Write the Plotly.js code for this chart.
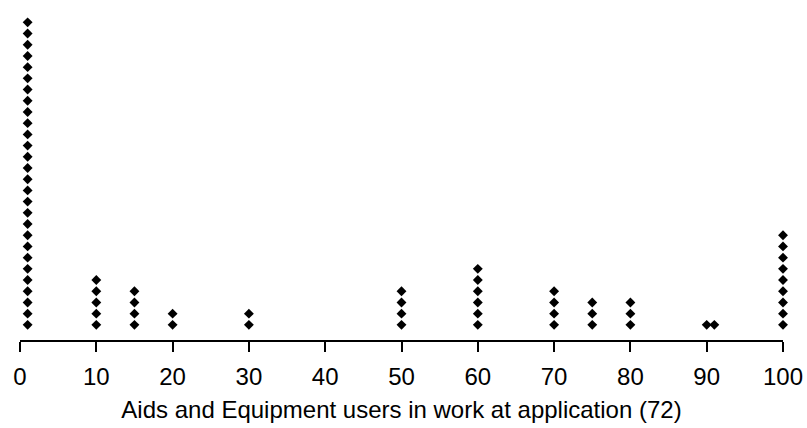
<!DOCTYPE html>
<html>
<head>
<meta charset="utf-8">
<script src="https://cdn.plot.ly/plotly-3.0.1.min.js"></script>
<style>html,body{margin:0;padding:0;background:#fff;}#chart{width:807px;height:428px;}</style>
</head>
<body>
<div id="chart"></div>
<script>
// Values (percentage) and the number of people at each value
const values = [1, 10, 15, 20, 30, 50, 60, 70, 75, 80, 90, 91, 100];
const counts = [28, 5, 4, 2, 2, 4, 6, 4, 3, 3, 1, 1, 9];
const tickValues = [0, 10, 20, 30, 40, 50, 60, 70, 80, 90, 100];
const xTitle = 'Aids and Equipment users in work at application (72)';

const xs = [], ys = [];
values.forEach((v, i) => {
  for (let k = 1; k <= counts[i]; k++) { xs.push(v); ys.push(k); }
});

const trace = {
  x: xs, y: ys, type: 'scatter', mode: 'markers', cliponaxis: false,
  marker: {symbol: 'diamond', size: 7.6, color: '#000', line: {width: 0}},
  hoverinfo: 'none'
};

const FONT = 'Liberation Sans, Arial, sans-serif';
const layout = {
  width: 807, height: 428,
  margin: {l: 20, r: 24, t: 10, b: 88},
  paper_bgcolor: '#fff', plot_bgcolor: '#fff',
  showlegend: false,
  font: {family: FONT, color: '#000'},
  xaxis: {
    range: [0, 100], tickmode: 'array', tickvals: tickValues,
    ticktext: tickValues.map(String),
    showgrid: false, zeroline: false, showline: true, linecolor: '#000', linewidth: 2,
    ticks: 'outside', ticklen: 10, tickwidth: 2, tickcolor: '#000',
    ticklabelstandoff: 4,
    tickfont: {size: 24, family: FONT, color: '#000'},
    title: {text: xTitle, font: {size: 24, family: FONT, color: '#000'}, standoff: 12}
  },
  yaxis: {
    range: [-0.35, 29.1], visible: false, showgrid: false, zeroline: false
  }
};

Plotly.newPlot('chart', [trace], layout, {displayModeBar: false, staticPlot: true});
</script>
</body>
</html>
